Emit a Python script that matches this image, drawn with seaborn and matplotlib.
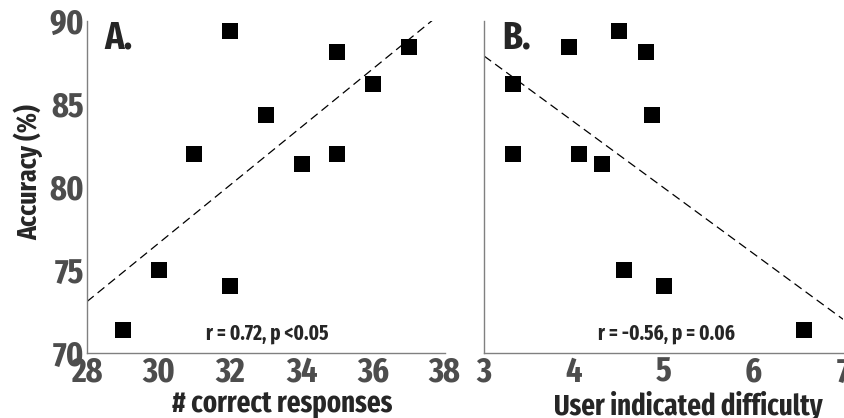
import matplotlib
matplotlib.use("Agg")
import matplotlib.pyplot as plt
from matplotlib import font_manager as fm
import seaborn as sns
import pandas as pd

# Valores
accuracy = [71.4, 75.0, 82.0, 89.4, 74.0, 84.3, 81.4, 88.1, 82.0, 86.2, 88.45]
correct_responses = [29, 30, 31, 32, 32, 33, 34, 35, 35, 36, 37]
difficulty = [6.56, 4.56, 4.06, 4.50, 5.00, 4.87, 4.31, 4.81, 3.32, 3.32, 3.95]

df_a = pd.DataFrame({"x": correct_responses, "y": accuracy})
df_b = pd.DataFrame({"x": difficulty, "y": accuracy})

sns.set_style("white")

# procurar uma fonte condensada instalada
candidatas = ["Fira Sans Extra Condensed", "Fira Sans Condensed",
              "IBM Plex Sans Condensed", "Roboto Condensed",
              "Open Sans Condensed", "Liberation Sans Narrow"]
nomes = {f.name for f in fm.fontManager.ttflist}
fonte = next((c for c in candidatas if c in nomes), "Open Sans")
plt.rcParams["font.family"] = [fonte, "DejaVu Sans"]
plt.rcParams["font.weight"] = "bold"
plt.rcParams["font.stretch"] = "condensed"

TICK_COLOR = "#4d4d4d"
SPINE_COLOR = "#808080"

fig = plt.figure(figsize=(8.44, 4.18), dpi=100)
ax1 = fig.add_axes([0.103, 0.156, 0.424, 0.794])
ax2 = fig.add_axes([0.5735, 0.156, 0.4254, 0.794])


def estilo(ax, xlim, xticks):
    ax.set_xlim(*xlim)
    ax.set_ylim(70, 90)
    ax.set_xticks(xticks)
    ax.set_yticks([70, 75, 80, 85, 90])
    for s in ["top", "right"]:
        ax.spines[s].set_visible(False)
    for s in ["left", "bottom"]:
        ax.spines[s].set_color(SPINE_COLOR)
        ax.spines[s].set_linewidth(1.0)
    ax.tick_params(direction="in", length=5, width=1, color=SPINE_COLOR,
                   labelcolor=TICK_COLOR, labelsize=25, pad=2)


for ax, df, xlim, xticks in [(ax1, df_a, (28, 38), [28, 30, 32, 34, 36, 38]),
                             (ax2, df_b, (3, 7), [3, 4, 5, 6, 7])]:
    ax.set_xlim(*xlim)
    sns.regplot(data=df, x="x", y="y", ax=ax, scatter=False, ci=None,
                truncate=False,
                line_kws=dict(color="black", lw=0.9, ls=(0, (7, 4))))
    sns.scatterplot(data=df, x="x", y="y", ax=ax, marker="s", s=120,
                    color="black", edgecolor="black", linewidth=0, zorder=3)
    estilo(ax, xlim, xticks)
    for lab in ax.get_xticklabels() + ax.get_yticklabels():
        lab.set_fontweight("bold")

ax2.set_yticklabels([])

ax1.set_xlabel("# correct responses", fontsize=21, fontweight="bold",
               labelpad=1, x=0.545)
ax1.set_ylabel("Accuracy (%)", fontsize=20, fontweight="bold",
               labelpad=4, y=0.545)
ax2.set_xlabel("User indicated difficulty", fontsize=21, fontweight="bold",
               labelpad=1, x=0.568)
ax2.set_ylabel("")

ax1.text(0.05, 1.005, "A.", transform=ax1.transAxes, fontsize=28,
         fontweight="bold", va="top", ha="left")
ax2.text(0.05, 1.005, "B.", transform=ax2.transAxes, fontsize=28,
         fontweight="bold", va="top", ha="left")

ax1.text(33.05, 71.2, "r = 0.72, p <0.05", fontsize=15, fontweight="bold",
         ha="center", va="center")
ax2.text(5.03, 71.2, "r = -0.56, p = 0.06", fontsize=15, fontweight="bold",
         ha="center", va="center")

fig.savefig("out.png", dpi=100)
